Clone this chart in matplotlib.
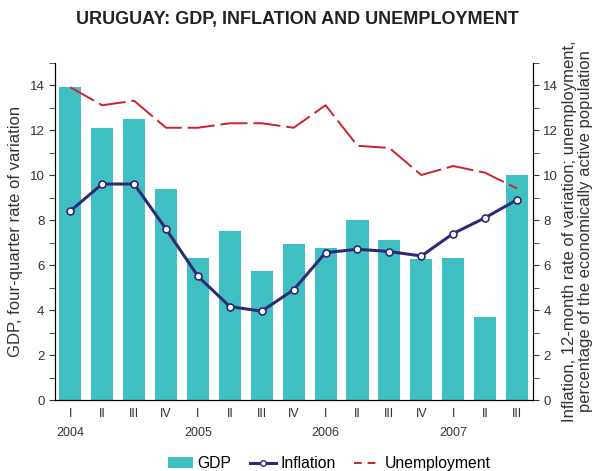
import numpy as np
import matplotlib.pyplot as plt
from matplotlib.patches import Patch
from matplotlib.lines import Line2D

plt.rcParams['font.family'] = ['Liberation Sans', 'DejaVu Sans']

trimestres = ['I', 'II', 'III', 'IV', 'I', 'II', 'III', 'IV',
              'I', 'II', 'III', 'IV', 'I', 'II', 'III']
anos = ['2004', '2005', '2006', '2007']
pos_anos = [0, 4, 8, 12]
pib = [13.9, 12.1, 12.5, 9.4, 6.3, 7.5, 5.75, 6.95,
       6.75, 8.0, 7.1, 6.25, 6.3, 3.7, 10.0]
inflacao = [8.4, 9.6, 9.6, 7.6, 5.5, 4.15, 3.95, 4.9,
            6.55, 6.7, 6.6, 6.4, 7.4, 8.1, 8.9]
desemprego = [13.9, 13.1, 13.3, 12.1, 12.1, 12.3, 12.3, 12.1,
              13.1, 11.3, 11.2, 10.0, 10.4, 10.1, 9.4]

cor_pib = '#41c0c4'
cor_inf = '#2e2a78'
cor_des = '#cc2229'
cor_txt = '#333333'

fig = plt.figure(figsize=(5.95, 4.71), dpi=100)
ax = fig.add_axes([0.0924, 0.1507, 0.8034, 0.7166])
x = np.arange(len(pib))

ax.bar(x, pib, width=0.69, color=cor_pib, zorder=1)
ax.set_xlim(-0.48, 14.5)
ax.set_ylim(0, 15)
ax.set_yticks(np.arange(0, 15, 2))
ax.set_yticks(np.arange(1, 16, 2), minor=True)
ax.set_xticks(x)
ax.set_xticklabels(trimestres)
ax.tick_params(axis='x', length=0, pad=6, labelsize=9, colors=cor_txt)
ax.tick_params(axis='y', which='both', direction='out', length=4,
               labelsize=9.5, colors=cor_txt)
ax.spines['top'].set_visible(False)
ax.set_ylabel('GDP, four-quarter rate of variation', fontsize=12,
              color=cor_txt, labelpad=5)

for p, a in zip(pos_anos, anos):
    ax.text(p, -1.45, a, ha='center', va='center', fontsize=9, color=cor_txt)

ax2 = ax.twinx()
ax2.set_ylim(0, 15)
ax2.set_yticks(np.arange(0, 15, 2))
ax2.set_yticks(np.arange(1, 16, 2), minor=True)
ax2.tick_params(axis='y', which='both', direction='out', length=4,
                labelsize=9.5, colors=cor_txt)
ax2.spines['top'].set_visible(False)
ax2.plot(x, desemprego, color=cor_des, lw=1.4, dashes=(14, 3))
ax2.plot(x, inflacao, color=cor_inf, lw=2.2, marker='o', markersize=5,
         markerfacecolor='white', markeredgecolor=cor_inf, markeredgewidth=1.2)
ax2.set_ylabel('Inflation, 12-month rate of variation; unemployment,\n'
               'percentage of the economically active population',
               fontsize=12, color=cor_txt, labelpad=3, linespacing=1.05)

fig.suptitle('URUGUAY: GDP, INFLATION AND UNEMPLOYMENT', x=0.5, y=0.958,
             va='center', fontsize=13, fontweight='bold', color='#222222')

handles = [Patch(facecolor=cor_pib, label='GDP'),
           Line2D([], [], color=cor_inf, lw=2.2, marker='o', markersize=4,
                  markerfacecolor='white', markeredgecolor=cor_inf,
                  label='Inflation'),
           Line2D([], [], color=cor_des, lw=1.4, dashes=(4, 3),
                  label='Unemployment')]
fig.legend(handles=handles, loc='lower center', bbox_to_anchor=(0.553, -0.03),
           ncol=3, frameon=False, fontsize=11.3, handlelength=1.6,
           handletextpad=0.3, columnspacing=1.2)

plt.savefig('out.png', dpi=100)
